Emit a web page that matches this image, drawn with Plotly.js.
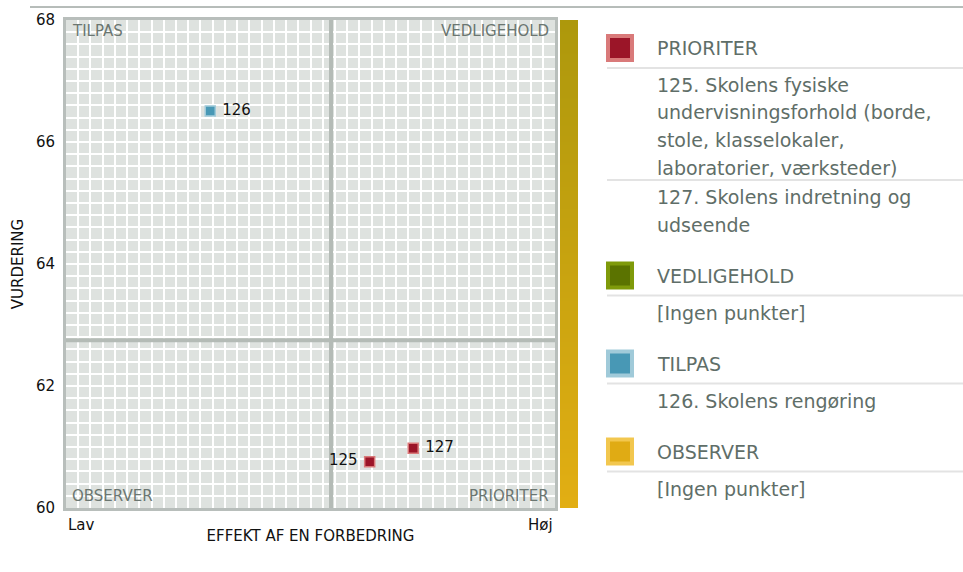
<!DOCTYPE html>
<html>
<head>
<meta charset="utf-8">
<script src="https://cdn.plot.ly/plotly-3.0.1.min.js"></script>
<style>
html,body{margin:0;padding:0;background:#fff;}
#chart{width:963px;height:572px;}
</style>
</head>
<body>
<div id="chart"></div>
<script>
// ---- data ----
const pointIds = ["126", "125", "127"];
const pointEffect = [0.295, 0.621, 0.710];      // relative effect (Lav=0 .. Høj=1)
const pointRating = [66.51, 60.76, 60.98];      // VURDERING
const pointQuadrant = ["TILPAS", "PRIORITER", "PRIORITER"];
const pointLabelSide = ["middle right", "middle left", "middle right"];

const effectThreshold = 0.542;
const ratingThreshold = 62.75;
const ratingRange = [60, 68];
const ratingTicks = [60, 62, 64, 66, 68];

const quadrants = ["PRIORITER", "VEDLIGEHOLD", "TILPAS", "OBSERVER"];
const quadrantFill = ["#9b1528", "#5b7300", "#4898b5", "#e0ab14"];
const quadrantEdge = ["#d97a7a", "#7f9a0a", "#a0cad9", "#f2c74f"];
const quadrantItems = [
  [["125. Skolens fysiske", "undervisningsforhold (borde,", "stole, klasselokaler,", "laboratorier, værksteder)"],
   ["127. Skolens indretning og", "udseende"]],
  [["[Ingen punkter]"]],
  [["126. Skolens rengøring"]],
  [["[Ingen punkter]"]]
];
const xLow = "Lav", xHigh = "Høj";
const xTitle = "EFFEKT AF EN FORBEDRING";
const yTitle = "VURDERING";

// ---- layout helpers ----
const FONT = "DejaVu Sans, Verdana, sans-serif";
const M = {l: 66, r: 0, t: 20, b: 64};
const W = 963 - M.l - M.r, H = 572 - M.t - M.b;
const px = x => (x - M.l) / W;
const py = y => (572 - M.b - y) / H;
const NBSP = "\u00a0";

const markerColors = pointQuadrant.map(q => quadrantFill[quadrants.indexOf(q)]);
const markerEdges = pointQuadrant.map(q => quadrantEdge[quadrants.indexOf(q)]);
const pointText = pointIds.map((t, i) => pointLabelSide[i].endsWith("right") ? NBSP + t : t + NBSP);

const traces = [
  {
    type: "scatter", mode: "markers+text",
    x: pointEffect, y: pointRating, text: pointText,
    textposition: pointLabelSide,
    textfont: {family: FONT, size: 15, color: "#111"},
    marker: {symbol: "square", size: 10, color: markerColors,
             line: {color: markerEdges, width: 1.5}},
    hoverinfo: "skip", showlegend: false, cliponaxis: false
  },
  {
    type: "heatmap", xaxis: "x2", yaxis: "y2",
    x: [0], y: [0, 1], z: [[0], [1]], zsmooth: "best",
    colorscale: [[0, "#e2ae13"], [1, "#ad980c"]],
    showscale: false, hoverinfo: "skip"
  }
];

const shapes = [
  {type: "line", xref: "x", yref: "y", layer: "between", x0: effectThreshold, x1: effectThreshold,
   y0: ratingRange[0], y1: ratingRange[1], line: {color: "#b4bbb6", width: 4}},
  {type: "line", xref: "x", yref: "y", layer: "between", x0: 0, x1: 1,
   y0: ratingThreshold, y1: ratingThreshold, line: {color: "#b4bbb6", width: 4}},
  {type: "line", xref: "paper", yref: "paper", x0: px(30), x1: px(963),
   y0: py(7), y1: py(7), line: {color: "#6f7a75", width: 1}}
];

const annotations = [
  {text: "TILPAS", xref: "paper", yref: "paper", x: px(70), y: py(31), xanchor: "left", yanchor: "middle"},
  {text: "VEDLIGEHOLD", xref: "paper", yref: "paper", x: px(551), y: py(31), xanchor: "right", yanchor: "middle"},
  {text: "OBSERVER", xref: "paper", yref: "paper", x: px(70), y: py(496), xanchor: "left", yanchor: "middle"},
  {text: "PRIORITER", xref: "paper", yref: "paper", x: px(551), y: py(496), xanchor: "right", yanchor: "middle"}
].map(a => Object.assign(a, {showarrow: false, font: {family: FONT, size: 15, color: "#6b7671"}}));

annotations.push(
  {text: xLow, xref: "paper", yref: "paper", x: px(66), y: py(525), xanchor: "left", yanchor: "middle",
   showarrow: false, font: {family: FONT, size: 15, color: "#111"}},
  {text: xHigh, xref: "paper", yref: "paper", x: px(555), y: py(525), xanchor: "right", yanchor: "middle",
   showarrow: false, font: {family: FONT, size: 15, color: "#111"}}
);

// ---- category legend on the right ----
const LINE_H = 27.5;
let yCur = 48;
const legendText = {family: FONT, size: 19, color: "#5f6e68"};
quadrants.forEach((q, i) => {
  shapes.push({type: "rect", xref: "paper", yref: "paper",
    x0: px(606), x1: px(634), y0: py(yCur - 14), y1: py(yCur + 14),
    fillcolor: quadrantEdge[i], line: {width: 0}});
  shapes.push({type: "rect", xref: "paper", yref: "paper",
    x0: px(610), x1: px(630), y0: py(yCur - 10), y1: py(yCur + 10),
    fillcolor: quadrantFill[i], line: {width: 0}});
  annotations.push({text: q, xref: "paper", yref: "paper", x: px(655), y: py(yCur),
    xanchor: "left", yanchor: "middle", showarrow: false, font: legendText});
  let sep = yCur + 20;
  let last = sep;
  quadrantItems[i].forEach(lines => {
    shapes.push({type: "line", xref: "paper", yref: "paper", x0: px(607), x1: px(963),
      y0: py(sep), y1: py(sep), line: {color: "#e3e3e3", width: 2}});
    lines.forEach((ln, k) => {
      last = sep + 17 + k * LINE_H;
      annotations.push({text: ln, xref: "paper", yref: "paper", x: px(655), y: py(last),
        xanchor: "left", yanchor: "middle", showarrow: false, font: legendText});
    });
    sep = last + 12.5;
  });
  yCur = last + 51;
});

const layout = {
  width: 963, height: 572,
  margin: M,
  paper_bgcolor: "#ffffff",
  plot_bgcolor: "#dee2df",
  font: {family: FONT, size: 15, color: "#111"},
  showlegend: false,
  xaxis: {
    domain: [0, 489 / W], range: [0, 1], dtick: 0.025, showticklabels: false, ticks: "",
    showgrid: true, gridcolor: "#ffffff", gridwidth: 2, zeroline: false,
    showline: true, mirror: true, linecolor: "#b8bebb", linewidth: 3,
    fixedrange: true,
    title: {text: xTitle, standoff: 21, font: {family: FONT, size: 15, color: "#111"}}
  },
  yaxis: {
    range: ratingRange, tickvals: ratingTicks, ticks: "", ticklabelstandoff: 5,
    tickfont: {family: FONT, size: 15, color: "#111"},
    showgrid: true, gridcolor: "#ffffff", gridwidth: 2, zeroline: false,
    minor: {dtick: 0.2, showgrid: true, gridcolor: "#ffffff", gridwidth: 2},
    showline: true, mirror: true, linecolor: "#b8bebb", linewidth: 3,
    fixedrange: true,
    title: {text: yTitle, standoff: 9, font: {family: FONT, size: 15, color: "#111"}}
  },
  xaxis2: {domain: [px(560), px(578)], range: [-0.5, 0.5], visible: false, fixedrange: true, anchor: "y2"},
  yaxis2: {domain: [0, 1], range: [0, 1], visible: false, fixedrange: true, anchor: "x2"},
  shapes: shapes,
  annotations: annotations
};

Plotly.newPlot("chart", traces, layout, {displayModeBar: false, staticPlot: true});
</script>
</body>
</html>
